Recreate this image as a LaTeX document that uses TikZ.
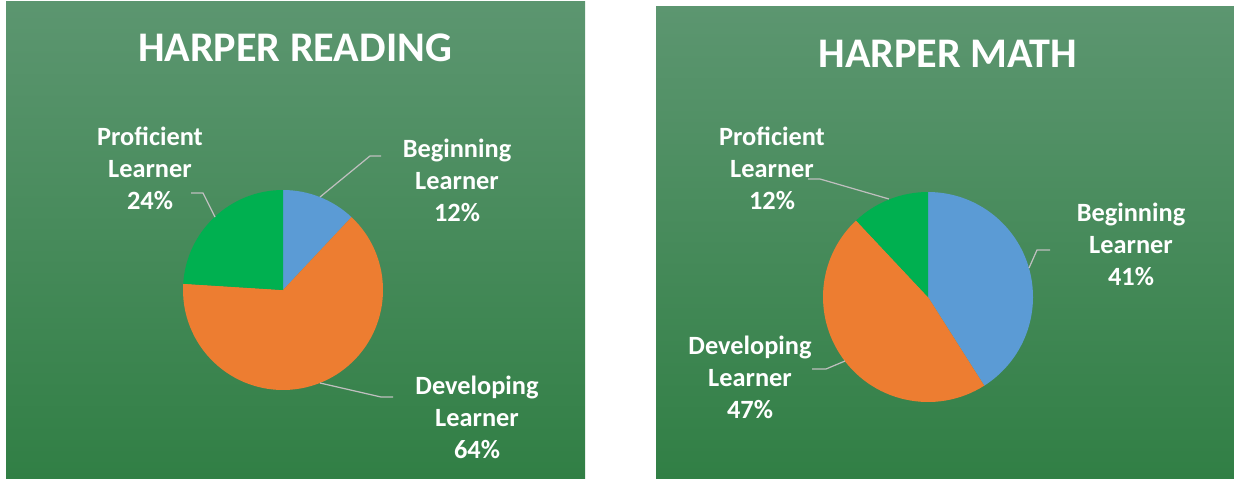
\documentclass[tikz,border=0pt]{standalone}
\usepackage{fontspec}
\setmainfont{Carlito}
\usetikzlibrary{positioning}

\definecolor{begblue}{HTML}{5B9BD5}
\definecolor{devorange}{HTML}{ED7D31}
\definecolor{profgreen}{HTML}{00B050}
\definecolor{paneltop}{HTML}{5C9670}
\definecolor{panelbot}{HTML}{317F45}
\definecolor{leadgray}{HTML}{BFBFBF}

\begin{document}
\begin{tikzpicture}[x=0.02cm,y=0.02cm,
	ttl/.style={text=white,font=\bfseries\fontsize{24}{28}\selectfont},
	lbl/.style={text=white,align=center,font=\bfseries\fontsize{15}{18.2}\selectfont},
	lead/.style={draw=leadgray,line width=0.7pt}]
	\useasboundingbox (0,0) rectangle (1234,478);

	% panels
	\shade[top color=paneltop,bottom color=panelbot] (6,0) rectangle (585,477);
	\shade[top color=paneltop,bottom color=panelbot] (656,0) rectangle (1234,472);

	\node[ttl] (ttl_r) at (295,430) {HARPER READING};
	\node[ttl] (ttl_m) at (948,424) {HARPER MATH};

	% reading pie: 12 / 64 / 24
	\fill[begblue]    (283,188) -- ++(90:100) arc[start angle=90,end angle=46.8,radius=100] -- cycle;
	\fill[devorange]  (283,188) -- ++(46.8:100) arc[start angle=46.8,end angle=-183.6,radius=100] -- cycle;
	\fill[profgreen]  (283,188) -- ++(176.4:100) arc[start angle=176.4,end angle=90,radius=100] -- cycle;

	% math pie: 41 / 47 / 12
	\fill[begblue]    (928,181) -- ++(90:105) arc[start angle=90,end angle=-57.6,radius=105] -- cycle;
	\fill[devorange]  (928,181) -- ++(-57.6:105) arc[start angle=-57.6,end angle=-226.8,radius=105] -- cycle;
	\fill[profgreen]  (928,181) -- ++(133.2:105) arc[start angle=133.2,end angle=90,radius=105] -- cycle;

	% labels
	\node[lbl] (r_beg)  at (457,298) {Beginning\\Learner\\12\%};
	\node[lbl] (r_dev)  at (477,61)  {Developing\\Learner\\64\%};
	\node[lbl] (r_prof) at (150,310) {Proficient\\Learner\\24\%};
	\node[lbl] (m_beg)  at (1131,234) {Beginning\\Learner\\41\%};
	\node[lbl] (m_dev)  at (750,101) {Developing\\Learner\\47\%};
	\node[lbl] (m_prof) at (772,310) {Proficient\\Learner\\12\%};

	% leader lines
	\coordinate (r_beg_a) at (320,281);   \coordinate (r_beg_b) at (381,322);
	\coordinate (r_dev_a) at (320,95);    \coordinate (r_dev_b) at (393,81);
	\coordinate (r_prof_a) at (215,261);  \coordinate (r_prof_b) at (191,285);
	\coordinate (m_beg_a) at (1029,210);  \coordinate (m_beg_b) at (1050,228);
	\coordinate (m_dev_a) at (845,117);   \coordinate (m_dev_b) at (812,109);
	\coordinate (m_prof_a) at (889,279);  \coordinate (m_prof_b) at (808,299);

	\draw[lead] (r_beg_a) -- (370,322) -- (r_beg_b);
	\draw[lead] (r_dev_a) -- (381,81) -- (r_dev_b);
	\draw[lead] (r_prof_a) -- (203,285) -- (r_prof_b);
	\draw[lead] (m_beg_a) -- (1037,228) -- (m_beg_b);
	\draw[lead] (m_dev_a) -- (826,109) -- (m_dev_b);
	\draw[lead] (m_prof_a) -- (820,299) -- (m_prof_b);
\end{tikzpicture}
\end{document}
